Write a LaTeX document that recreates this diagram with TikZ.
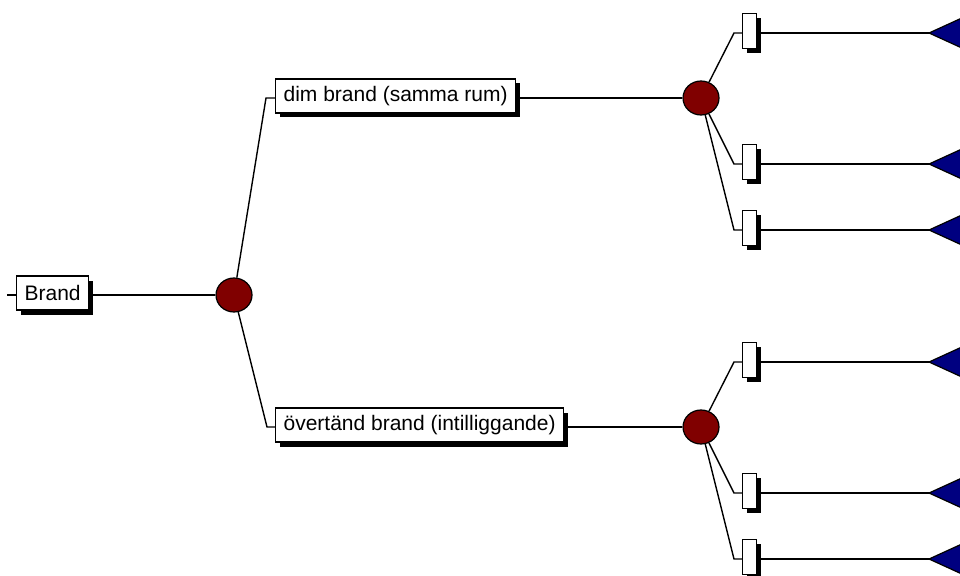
\documentclass[tikz,border=0pt]{standalone}
\usepackage{fontspec}
\setmainfont{Liberation Sans}
\usetikzlibrary{positioning, shapes.geometric, shadows}
\definecolor{chance}  {HTML}{800000}
\definecolor{terminal}{HTML}{000080}

\begin{document}
\begin{tikzpicture}[x=1pt, y=-1pt, line width=1.4pt,
    decision/.style={draw, fill=white, line width=1.2pt, anchor=west,
                     font=\fontsize{21}{25}\selectfont, minimum height=34pt,
                     inner xsep=8pt, inner ysep=0pt, yshift=2pt,
                     drop shadow={shadow xshift=4.5pt, shadow yshift=-4.5pt,
                                  fill=black, opacity=1}},
    chancept/.style={ellipse, draw, fill=chance, line width=1.2pt,
                     minimum width=36pt, minimum height=34pt, inner sep=0pt},
    branch/.style={draw, fill=white, line width=1.2pt, anchor=west,
                   minimum width=14pt, minimum height=35pt, inner sep=0pt,
                   yshift=2pt,
                   drop shadow={shadow xshift=4.5pt, shadow yshift=-4.5pt,
                                fill=black, opacity=1}},
    leaf/.style={draw, fill=terminal, line width=1.2pt}
  ]
    \clip (0,0) rectangle (960,575);

    % root and first chance node
    \coordinate (root) at (7,295);
    \node[decision] (brand) at (16,295) {Brand};
    \node[chancept] (c0) at (234,295) {};
    \draw (root) -- (root -| brand.west);
    \draw (brand.east |- c0) -- (c0);

    % upper branch
    \coordinate (eA) at (266,98);
    \node[decision] (dim) at (275,98) {dim brand (samma rum)};
    \node[chancept] (c1) at (701,98) {};
    \draw (c0) -- (eA) -- (eA -| dim.west);
    \draw (dim.east |- c1) -- (c1);

    % lower branch
    \coordinate (eB) at (267,427);
    \node[decision] (over) at (275,427) {övertänd brand (intilliggande)};
    \node[chancept] (c2) at (701,427) {};
    \draw (c0) -- (eB) -- (eB -| over.west);
    \draw (over.east |- c2) -- (c2);

    % outcomes of the upper chance node
    \coordinate (e11) at (734,33);
    \coordinate (e12) at (734,164);
    \coordinate (e13) at (734,230);
    \node[branch] (b11) at (742,33) {};
    \node[branch] (b12) at (742,164) {};
    \node[branch] (b13) at (742,230) {};
    \coordinate (t11) at (929,33);
    \coordinate (t12) at (929,164);
    \coordinate (t13) at (929,230);
    \draw (c1) -- (e11) -- (e11 -| b11.west);
    \draw (c1) -- (e12) -- (e12 -| b12.west);
    \draw (c1) -- (e13) -- (e13 -| b13.west);
    \draw (t11 -| b11.east) -- (t11);
    \draw (t12 -| b12.east) -- (t12);
    \draw (t13 -| b13.east) -- (t13);
    \draw[leaf] (t11) -- ++(46,-21) -- ++(0,42) -- cycle;
    \draw[leaf] (t12) -- ++(46,-21) -- ++(0,42) -- cycle;
    \draw[leaf] (t13) -- ++(46,-21) -- ++(0,42) -- cycle;

    % outcomes of the lower chance node
    \coordinate (e21) at (734,362);
    \coordinate (e22) at (734,493);
    \coordinate (e23) at (734,559);
    \node[branch] (b21) at (742,362) {};
    \node[branch] (b22) at (742,493) {};
    \node[branch] (b23) at (742,559) {};
    \coordinate (t21) at (929,362);
    \coordinate (t22) at (929,493);
    \coordinate (t23) at (929,559);
    \draw (c2) -- (e21) -- (e21 -| b21.west);
    \draw (c2) -- (e22) -- (e22 -| b22.west);
    \draw (c2) -- (e23) -- (e23 -| b23.west);
    \draw (t21 -| b21.east) -- (t21);
    \draw (t22 -| b22.east) -- (t22);
    \draw (t23 -| b23.east) -- (t23);
    \draw[leaf] (t21) -- ++(46,-21) -- ++(0,42) -- cycle;
    \draw[leaf] (t22) -- ++(46,-21) -- ++(0,42) -- cycle;
    \draw[leaf] (t23) -- ++(46,-21) -- ++(0,42) -- cycle;
\end{tikzpicture}
\end{document}
